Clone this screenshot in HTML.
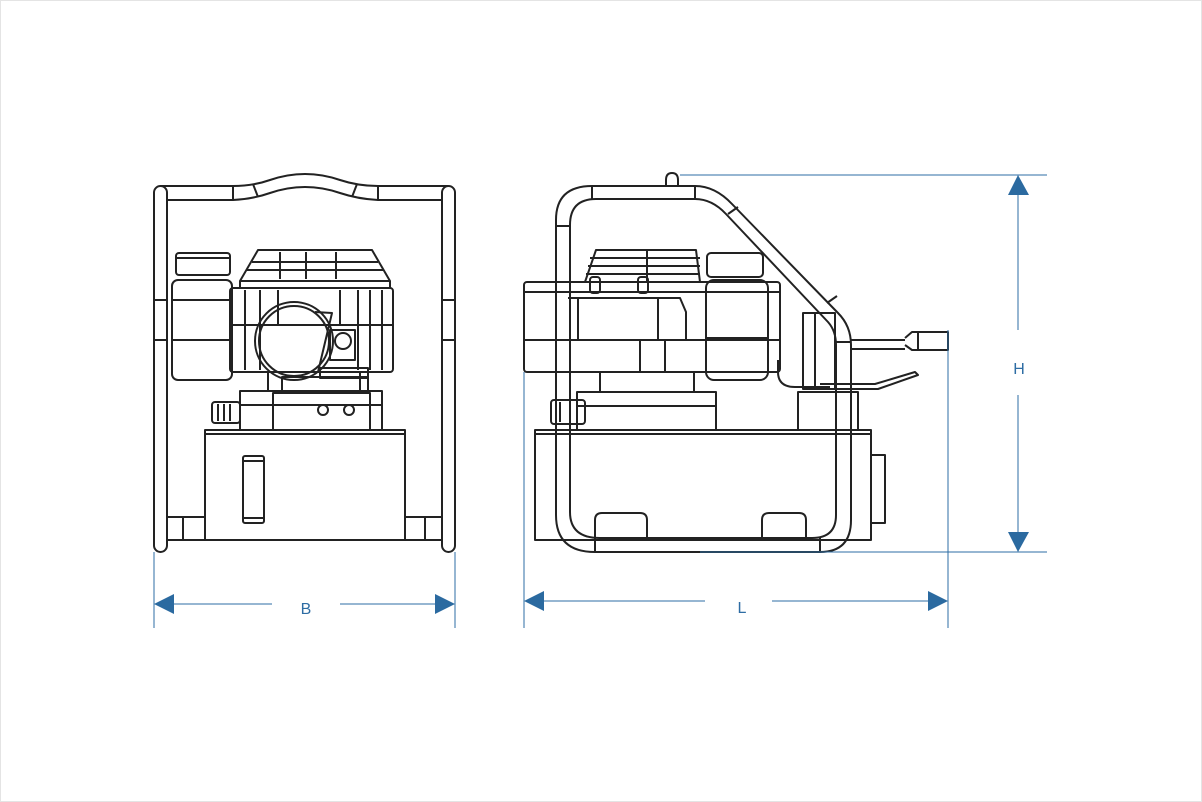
<!DOCTYPE html>
<html><head><meta charset="utf-8"><style>
html,body{margin:0;padding:0;background:#fff;}
svg{display:block;}
text{font-family:"Liberation Sans",sans-serif;}
</style></head><body>
<svg width="1202" height="802" viewBox="0 0 1202 802" xmlns="http://www.w3.org/2000/svg">
<rect x="0.5" y="0.5" width="1201" height="801" fill="#fff" stroke="#e4e4e4"/>

<!-- ===== FRONT VIEW ===== -->
<g fill="none" stroke="#222" stroke-width="2" stroke-linejoin="round">
  <!-- frame tubes -->
  <rect x="154" y="186" width="13" height="366" rx="6.5"/>
  <rect x="442" y="186" width="13" height="366" rx="6.5"/>
  <line x1="154" y1="300" x2="167" y2="300"/><line x1="154" y1="340" x2="167" y2="340"/>
  <line x1="442" y1="300" x2="455" y2="300"/><line x1="442" y1="340" x2="455" y2="340"/>
  <!-- top bar -->
  <path d="M160 186 H233 Q253 186 270 180 Q305 168 340 180 Q358 186 378 186 H448"/>
  <path d="M167 200 H233 Q253 199 270 193 Q305 181 340 193 Q358 199 378 200 H442"/>
  <line x1="233" y1="186" x2="233" y2="200"/><line x1="378" y1="186" x2="378" y2="200"/>
  <line x1="253" y1="184" x2="258" y2="197"/><line x1="357" y1="184" x2="352" y2="197"/>
  <!-- bottom bar -->
  <line x1="167" y1="540" x2="442" y2="540"/>
  <rect x="167" y="517" width="38" height="23"/>
  <rect x="405" y="517" width="37" height="23"/>
  <line x1="183" y1="517" x2="183" y2="540"/><line x1="425" y1="517" x2="425" y2="540"/>
  <!-- tank -->
  <rect x="205" y="430" width="200" height="110"/>
  <line x1="205" y1="434" x2="405" y2="434"/>
  <rect x="243" y="456" width="21" height="67" rx="2"/>
  <line x1="243" y1="461" x2="264" y2="461"/><line x1="243" y1="518" x2="264" y2="518"/>
  <!-- valve block -->
  <rect x="240" y="391" width="142" height="39"/>
  <line x1="240" y1="405" x2="382" y2="405"/>
  <rect x="273" y="393" width="97" height="37"/>
  <circle cx="323" cy="410" r="5"/><circle cx="349" cy="410" r="5"/>
  <rect x="212" y="402" width="28" height="21" rx="3"/>
  <line x1="218" y1="404" x2="218" y2="421"/><line x1="224" y1="404" x2="224" y2="421"/><line x1="230" y1="404" x2="230" y2="421"/>
  <rect x="282" y="377" width="86" height="16"/>
  <line x1="268" y1="372" x2="268" y2="391"/><line x1="360" y1="372" x2="360" y2="391"/>
  <!-- motor body -->
  <rect x="230" y="288" width="163" height="84" rx="3"/>
  <line x1="230" y1="325" x2="393" y2="325"/>
  <line x1="245" y1="290" x2="245" y2="370"/><line x1="260" y1="290" x2="260" y2="370"/>
  <line x1="278" y1="290" x2="278" y2="325"/>
  <line x1="340" y1="290" x2="340" y2="325"/><line x1="358" y1="290" x2="358" y2="370"/>
  <line x1="370" y1="290" x2="370" y2="370"/><line x1="382" y1="290" x2="382" y2="370"/>
  <!-- fan cover -->
  <path d="M258 250 H372 L390 281 H240 Z"/>
  <line x1="252" y1="262" x2="378" y2="262"/><line x1="247" y1="270" x2="383" y2="270"/>
  <line x1="280" y1="252" x2="280" y2="279"/><line x1="306" y1="252" x2="306" y2="279"/><line x1="336" y1="252" x2="336" y2="279"/>
  <line x1="240" y1="281" x2="240" y2="288"/><line x1="390" y1="281" x2="390" y2="288"/>
  <!-- oil tank left -->
  <rect x="176" y="253" width="54" height="22" rx="3"/>
  <line x1="176" y1="258" x2="230" y2="258"/>
  <rect x="172" y="280" width="60" height="100" rx="6"/>
  <line x1="172" y1="300" x2="232" y2="300"/><line x1="172" y1="340" x2="232" y2="340"/>
  <!-- big circle -->
  <circle cx="294" cy="341" r="39"/><circle cx="294" cy="341" r="35"/>
  <path d="M315 312 L332 313 L318 372"/>
  <rect x="330" y="330" width="25" height="30"/>
  <circle cx="343" cy="341" r="8"/>
  <rect x="320" y="368" width="48" height="10"/>
</g>

<!-- ===== SIDE VIEW ===== -->
<g fill="none" stroke="#222" stroke-width="2" stroke-linejoin="round">
  <!-- tank -->
  <rect x="535" y="430" width="336" height="110"/>
  <line x1="535" y1="434" x2="871" y2="434"/>
  <rect x="871" y="455" width="14" height="68"/>
  <path d="M595 540 V520 Q595 513 602 513 H640 Q647 513 647 520 V540"/>
  <path d="M762 540 V520 Q762 513 769 513 H799 Q806 513 806 520 V540"/>
  <!-- valve block -->
  <rect x="577" y="392" width="139" height="38"/>
  <line x1="577" y1="406" x2="716" y2="406"/>
  <line x1="600" y1="372" x2="600" y2="392"/><line x1="694" y1="372" x2="694" y2="392"/>
  <rect x="551" y="400" width="34" height="24" rx="3"/>
  <line x1="560" y1="402" x2="560" y2="422"/><line x1="570" y1="402" x2="570" y2="422"/>
  <!-- motor -->
  <rect x="524" y="282" width="256" height="90" rx="3"/>
  <line x1="524" y1="340" x2="780" y2="340"/>
  <line x1="524" y1="292" x2="780" y2="292"/>
  <line x1="556" y1="295" x2="556" y2="370"/>
  <line x1="640" y1="340" x2="640" y2="372"/><line x1="665" y1="340" x2="665" y2="372"/>
  <line x1="578" y1="298" x2="578" y2="340"/><line x1="658" y1="298" x2="658" y2="340"/>
  <path d="M568 298 H680 L686 312 V340"/>
  <!-- fan -->
  <path d="M596 250 H696 L700 282 H585 Z"/>
  <line x1="590" y1="258" x2="700" y2="258"/><line x1="588" y1="266" x2="700" y2="266"/><line x1="586" y1="274" x2="700" y2="274"/>
  <line x1="647" y1="250" x2="647" y2="282"/>
  <rect x="590" y="277" width="10" height="16" rx="3"/><rect x="638" y="277" width="10" height="16" rx="3"/>
  <!-- oil cap / body -->
  <rect x="707" y="253" width="56" height="24" rx="4"/>
  <rect x="706" y="280" width="62" height="100" rx="8"/>
  <line x1="706" y1="338" x2="768" y2="338"/>
  <!-- right components -->
  <rect x="803" y="313" width="32" height="76"/>
  <line x1="815" y1="313" x2="815" y2="389"/>
  <path d="M778 360 V372 Q778 387 795 387 H830"/>
  <rect x="798" y="392" width="60" height="38"/>
  <line x1="851" y1="340" x2="905" y2="340"/><line x1="851" y1="349" x2="905" y2="349"/>
  <path d="M905 338 L912 332 H948 V350 H912 L905 345"/>
  <line x1="918" y1="332" x2="918" y2="350"/>
  <path d="M820 384 H875 L915 372 L918 375 L878 389 H820"/>
  <!-- frame -->
  <path d="M556 220 Q556 186 592 186 H695 Q715 186 732 204 L838 313 Q851 326 851 345 V520 Q851 552 820 552 H595 Q556 552 556 515 Z"/>
  <path d="M570 225 Q570 199 596 199 H695 Q712 199 726 214 L828 322 Q836 331 836 345 V515 Q836 538 812 538 H600 Q570 538 570 512 Z"/>
  <line x1="592" y1="186" x2="592" y2="199"/><line x1="695" y1="186" x2="695" y2="199"/>
  <line x1="556" y1="226" x2="570" y2="226"/><line x1="827" y1="303" x2="837" y2="296"/>
  <line x1="738" y1="207" x2="728" y2="214"/><line x1="836" y1="342" x2="851" y2="342"/>
  <line x1="595" y1="538" x2="595" y2="552"/><line x1="820" y1="538" x2="820" y2="552"/>
  <path d="M666 186 V180 Q666 173 672 173 Q678 173 678 180 V186"/>
</g>

<!-- ===== DIMENSIONS ===== -->
<g stroke="#2e6da4" stroke-width="1" fill="none">
  <line x1="154" y1="552" x2="154" y2="628"/><line x1="455" y1="552" x2="455" y2="628"/>
  <line x1="170" y1="604" x2="272" y2="604"/><line x1="340" y1="604" x2="440" y2="604"/>
  <line x1="524" y1="372" x2="524" y2="628"/><line x1="948" y1="330" x2="948" y2="628"/>
  <line x1="540" y1="601" x2="705" y2="601"/><line x1="772" y1="601" x2="932" y2="601"/>
  <line x1="680" y1="175" x2="1047" y2="175"/><line x1="700" y1="552" x2="1047" y2="552"/>
  <line x1="1018" y1="192" x2="1018" y2="330"/><line x1="1018" y1="395" x2="1018" y2="535"/>
</g>
<g fill="#2b6aa0">
  <polygon points="154,604 174,594 174,614"/><polygon points="455,604 435,594 435,614"/>
  <polygon points="524,601 544,591 544,611"/><polygon points="948,601 928,591 928,611"/>
  <polygon points="1018,175 1008,195 1029,195"/><polygon points="1018,552 1008,532 1029,532"/>
</g>
<g fill="#2e6da4" font-size="16" text-anchor="middle">
  <text x="306" y="614">B</text>
  <text x="742" y="613">L</text>
  <text x="1019" y="374">H</text>
</g>
</svg>
</body></html>
